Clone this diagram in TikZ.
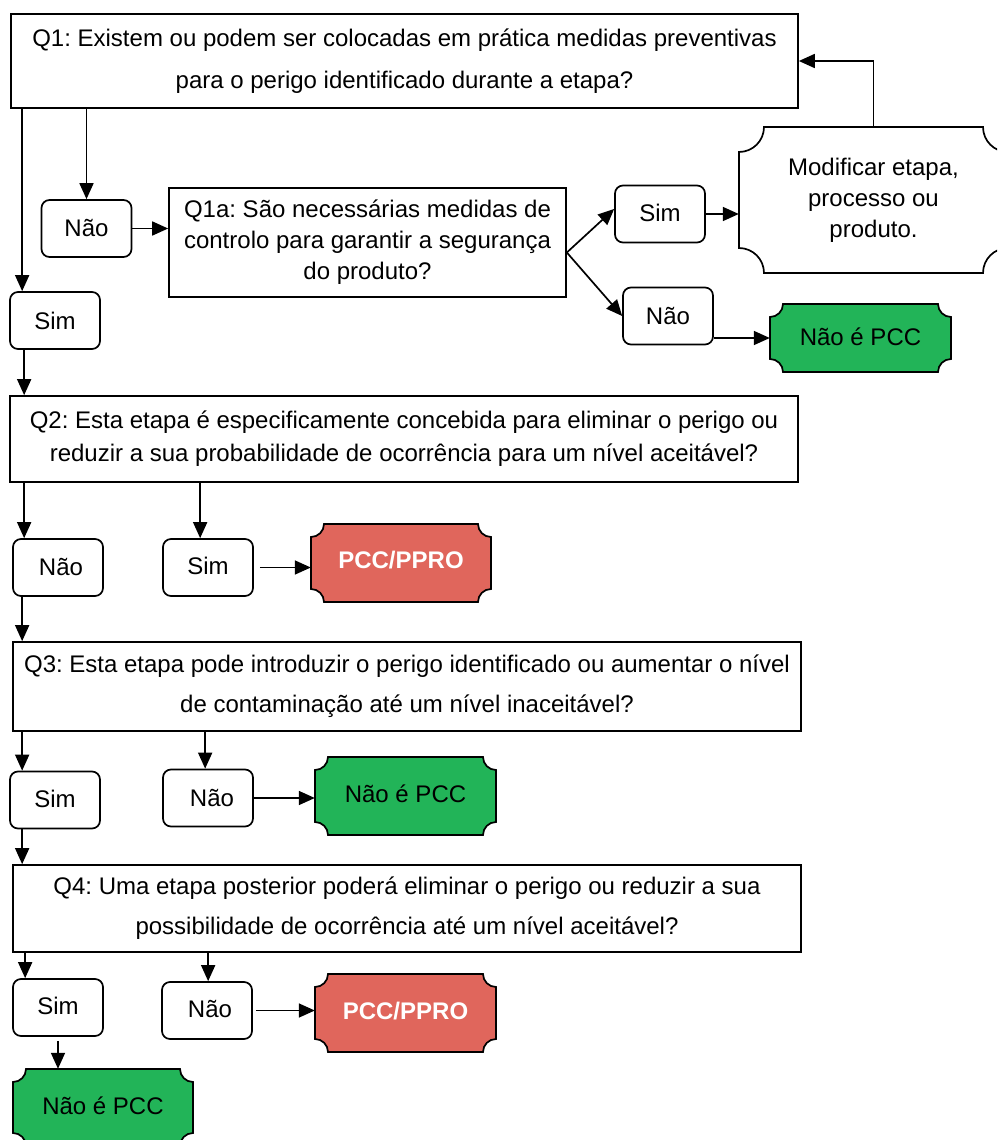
\documentclass[tikz,border=0pt]{standalone}
\usepackage{fontspec}
\setmainfont{Liberation Sans}
\usetikzlibrary{arrows.meta,calc}
\frenchspacing
\definecolor{pccgreen}{RGB}{34,180,88}
\definecolor{pccred}{RGB}{224,102,92}
% #1 name, #2 x1, #3 y1, #4 x2, #5 y2, #6 notch radius, #7 path style, #8 text
\newcommand\plaq[8]{%
  \path[#7] ({#2+#6},#3) -- ({#4-#6},#3)
    .. controls ({#4-#6},{#3+0.5523*#6}) and ({#4-0.5523*#6},{#3+#6}) .. (#4,{#3+#6})
    -- (#4,{#5-#6})
    .. controls ({#4-0.5523*#6},{#5-#6}) and ({#4-#6},{#5-0.5523*#6}) .. ({#4-#6},#5)
    -- ({#2+#6},#5)
    .. controls ({#2+#6},{#5-0.5523*#6}) and ({#2+0.5523*#6},{#5-#6}) .. (#2,{#5-#6})
    -- (#2,{#3+#6})
    .. controls ({#2+0.5523*#6},{#3+#6}) and ({#2+#6},{#3+0.5523*#6}) .. ({#2+#6},#3)
    -- cycle;
  \node[minimum width={#4-#2}, minimum height={#5-#3}, inner sep=0pt, align=center,
        font=\fontsize{24}{31}\selectfont] (#1) at ({(#2+#4)/2},{(#3+#5)/2}) {#8};}
\begin{document}
\begin{tikzpicture}[x=1pt,y=-1pt,
  qbox/.style={draw, line width=1.7pt, align=center, inner sep=2pt},
  ans/.style={draw, line width=1.7pt, rounded corners=8pt, minimum width=90pt,
              minimum height=57pt, inner sep=0pt, font=\fontsize{24}{28}\selectfont},
  arr/.style={line width=1.7pt, -{Triangle[length=16pt,width=14pt]}},
  plaqwhite/.style={draw, line width=1.7pt, fill=white},
  plaqgreen/.style={draw, line width=1.7pt, fill=pccgreen},
  plaqred/.style={draw, line width=1.7pt, fill=pccred}
]
\useasboundingbox (0,0) rectangle (997,1140);
\clip (0,0) rectangle (997,1140);
\fill[white] (0,0) rectangle (997,1140);

% question boxes
\node[qbox, minimum width=787pt, minimum height=94pt, font=\fontsize{24}{42}\selectfont]
  (q1) at (404.5,61) {Q1: Existem ou podem ser colocadas em prática medidas preventivas\\para o perigo identificado durante a etapa?};
\node[qbox, minimum width=397pt, minimum height=109pt, font=\fontsize{24}{31}\selectfont]
  (q1a) at (367.5,242.5) {\raisebox{-3pt}{Q1a: São necessárias medidas de}\\\raisebox{-3pt}{controlo para garantir a segurança}\\\raisebox{-3pt}{do produto?}};
\node[qbox, minimum width=788pt, minimum height=86pt, font=\fontsize{24}{33}\selectfont]
  (q2) at (404,439) {Q2: Esta etapa é especificamente concebida para eliminar o perigo ou\\reduzir a sua probabilidade de ocorrência para um nível aceitável?};
\node[qbox, minimum width=788pt, minimum height=89pt, font=\fontsize{24}{40}\selectfont]
  (q3) at (407,686.5) {Q3: Esta etapa pode introduzir o perigo identificado ou aumentar o nível\\de contaminação até um nível inaceitável?};
\node[qbox, minimum width=788pt, minimum height=87pt, font=\fontsize{24}{40}\selectfont]
  (q4) at (407,908.5) {Q4: Uma etapa posterior poderá eliminar o perigo ou reduzir a sua\\possibilidade de ocorrência até um nível aceitável?};

% answer boxes
\node[ans] (sim1) at (55,320.5) {\raisebox{-2pt}{Sim}};
\node[ans] (nao1) at (86.5,228.5) {Não};
\node[ans] (sim2) at (660,214) {\raisebox{2pt}{Sim}\hspace{8pt}};
\node[ans] (nao2) at (668,316) {Não};
\node[ans] (nao3) at (58,567.5) {\raisebox{-2pt}{\hspace{6pt}Não}};
\node[ans] (sim3) at (208,567.5) {\raisebox{3pt}{Sim}\hspace{6pt}};
\node[ans] (sim4) at (55,800) {\raisebox{3pt}{Sim}\hspace{10pt}};
\node[ans] (nao4) at (208,798) {\raisebox{-2pt}{\hspace{8pt}Não}};
\node[ans] (sim5) at (58,1007.5) {\raisebox{3pt}{Sim}};
\node[ans] (nao5) at (207,1010.5) {\raisebox{3pt}{\hspace{6pt}Não}};

% result plaques
\plaq{modif}{739}{127}{1008}{273}{25}{plaqwhite}{Modificar etapa,\\processo ou\\produto.}
\plaq{nep1}{770}{304}{951}{372}{13}{plaqgreen}{\raisebox{3pt}{Não é PCC}}
\plaq{pcc1}{311}{524}{491}{602}{13}{plaqred}{\raisebox{6pt}{\color{white}\bfseries PCC/PPRO}}
\plaq{nep2}{315}{757}{496}{835}{13}{plaqgreen}{\raisebox{5pt}{Não é PCC}}
\plaq{pcc2}{315}{974}{496}{1052}{13}{plaqred}{\raisebox{5pt}{\color{white}\bfseries PCC/PPRO}}
\plaq{nep3}{13}{1069}{193}{1146}{13}{plaqgreen}{\raisebox{4pt}{Não é PCC}}

% connectors
\draw[arr] ([xshift=12pt]q1.south west) -- ([xshift=13pt]sim1.north west);
\draw[arr] (nao1.north |- q1.south) -- (nao1.north);
\draw[arr] (nao1.east) -- (nao1.east -| q1a.west);
\draw[arr] ([yshift=-10pt]q1a.east) -- ([yshift=5pt]sim2.west);
\draw[arr] ([yshift=-10pt]q1a.east) -- (nao2.west);
\draw[arr] (sim2.east) -- (sim2.east -| modif.west);
\draw[arr] (modif.north) |- (q1.east);
\draw[arr] (nep1.west -| nao2.east) -- (nep1.west);

\draw[arr] ([xshift=15pt]sim1.south west) -- ([xshift=15pt]q2.north west);
\draw[arr] ([xshift=15pt]q2.south west) -- ([xshift=12pt]nao3.north west);
\draw[arr] ([xshift=191pt]q2.south west) -- ([xshift=38pt]sim3.north west);
\draw[arr] ([xshift=6pt]sim3.east) -- (sim3.east -| pcc1.west);

\draw[arr] ([xshift=10pt]nao3.south west) -- ([xshift=10pt]q3.north west);
\draw[arr] ([xshift=10pt]q3.south west) -- ([xshift=13pt]sim4.north west);
\draw[arr] ([xshift=193pt]q3.south west) -- ([xshift=43pt]nao4.north west);
\draw[arr] (nao4.east) -- (nao4.east -| nep2.west);

\draw[arr] ([xshift=13pt]sim4.south west) -- ([xshift=10pt]q4.north west);
\draw[arr] ([xshift=13pt]q4.south west) -- ([xshift=13pt]sim5.north west);
\draw[arr] ([xshift=196pt]q4.south west) -- ([xshift=47pt]nao5.north west);
\draw[arr] ([xshift=3pt]nao5.east) -- (nao5.east -| pcc2.west);
\draw[arr] ([yshift=-4pt]sim5.south) -- (sim5.south |- nep3.north);
\end{tikzpicture}
\end{document}
